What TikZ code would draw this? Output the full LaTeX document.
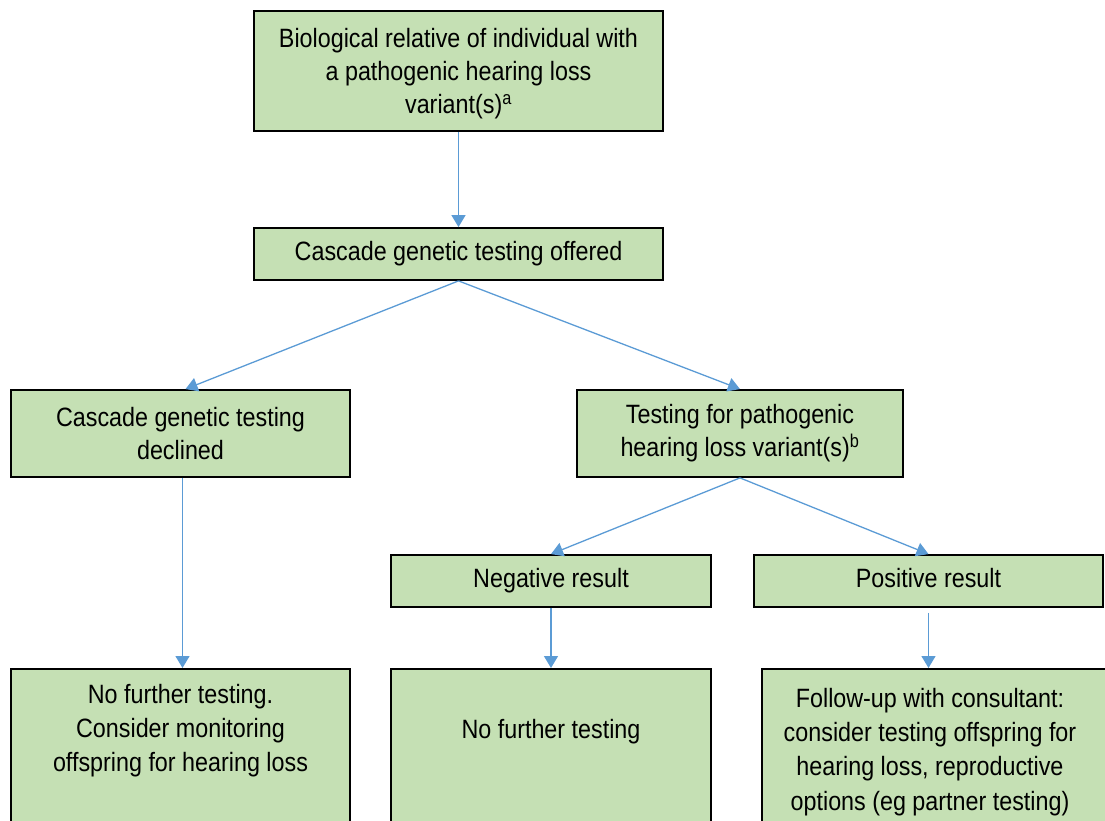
\documentclass[tikz,border=0pt]{standalone}
\usepackage{fontspec}
\setmainfont{Liberation Sans}[FakeStretch=0.88]
\usetikzlibrary{arrows.meta,calc}

\definecolor{boxgreen}{RGB}{197,224,180}
\definecolor{arrowblue}{RGB}{91,155,213}

\tikzset{
  stepbox/.style={draw=black, line width=1.8pt, fill=boxgreen, inner sep=0pt, align=center,
    font=\fontsize{26.5}{33}\selectfont},
  boxtext/.style={inner sep=0pt, align=center, anchor=north, font=\fontsize{26.5}{34.2}\selectfont},
  flow/.style={draw=arrowblue, line width=1.3pt, -{Triangle[width=14pt,length=12pt]}}
}

\begin{document}
\begin{tikzpicture}[x=1pt,y=1pt,yscale=-1]
    \useasboundingbox (0,0) rectangle (1105,821);
    \clip (0,0) rectangle (1105,821);

    % Boxes, top row
    \node[stepbox, minimum width=409, minimum height=120] (relative) at (458.5,71)
      {\\[-8pt]Biological relative of individual with\\a pathogenic hearing loss\\variant(s)\textsuperscript{a}};
    \node[stepbox, minimum width=409, minimum height=52] (offered) at (458.5,254)
      {\raisebox{-3pt}{\strut Cascade genetic testing offered}};

    % Boxes, second row
    \node[stepbox, minimum width=339, minimum height=87] (declined) at (180.5,433.5)
      {Cascade genetic testing\\declined};
    \node[stepbox, minimum width=326, minimum height=87] (testing) at (740,433.5)
      {Testing for pathogenic\\hearing loss variant(s)\textsuperscript{b}};

    % Boxes, results
    \node[stepbox, minimum width=320, minimum height=52] (negative) at (551,581)
      {\raisebox{-3pt}{\strut Negative result}};
    \node[stepbox, minimum width=349, minimum height=52] (positive) at (928.5,581)
      {\raisebox{-3pt}{\strut Positive result}};

    % Boxes, bottom row (run past the page edge)
    \node[stepbox, minimum width=339, minimum height=200, anchor=north] (nomore) at (180.5,668) {};
    \node[stepbox, minimum width=320, minimum height=200, anchor=north] (nonegative) at (551,668) {};
    \node[stepbox, minimum width=360, minimum height=200, anchor=north] (followup) at (942,668) {};

    % Text Node
    \node[boxtext] (nomoretxt) at (180.5,684) {No further testing.\\Consider monitoring\\offspring for hearing loss};
    % Text Node
    \node[boxtext] (nonegativetxt) at (551,719) {No further testing};
    % Text Node
    \node[boxtext] (followuptxt) at (930,688) {Follow-up with consultant:\\consider testing offspring for\\hearing loss, reproductive\\options (eg partner testing)};

    % Connectors
    \draw[flow] (relative.south) -- (offered.north);
    \draw[flow] (offered.south) -- ($(declined.north)+(5,0)$);
    \draw[flow] (offered.south) -- (testing.north);
    \draw[flow] (testing.south) -- (negative.north);
    \draw[flow] (testing.south) -- (positive.north);
    \draw[flow] ($(declined.south)+(2,0)$) -- ($(nomore.north)+(2,0)$);
    \draw[flow] (negative.south) -- (negative.south |- nonegative.north);
    \draw[flow] ($(positive.south)+(0,5)$) -- (positive.south |- followup.north);

\end{tikzpicture}
\end{document}
